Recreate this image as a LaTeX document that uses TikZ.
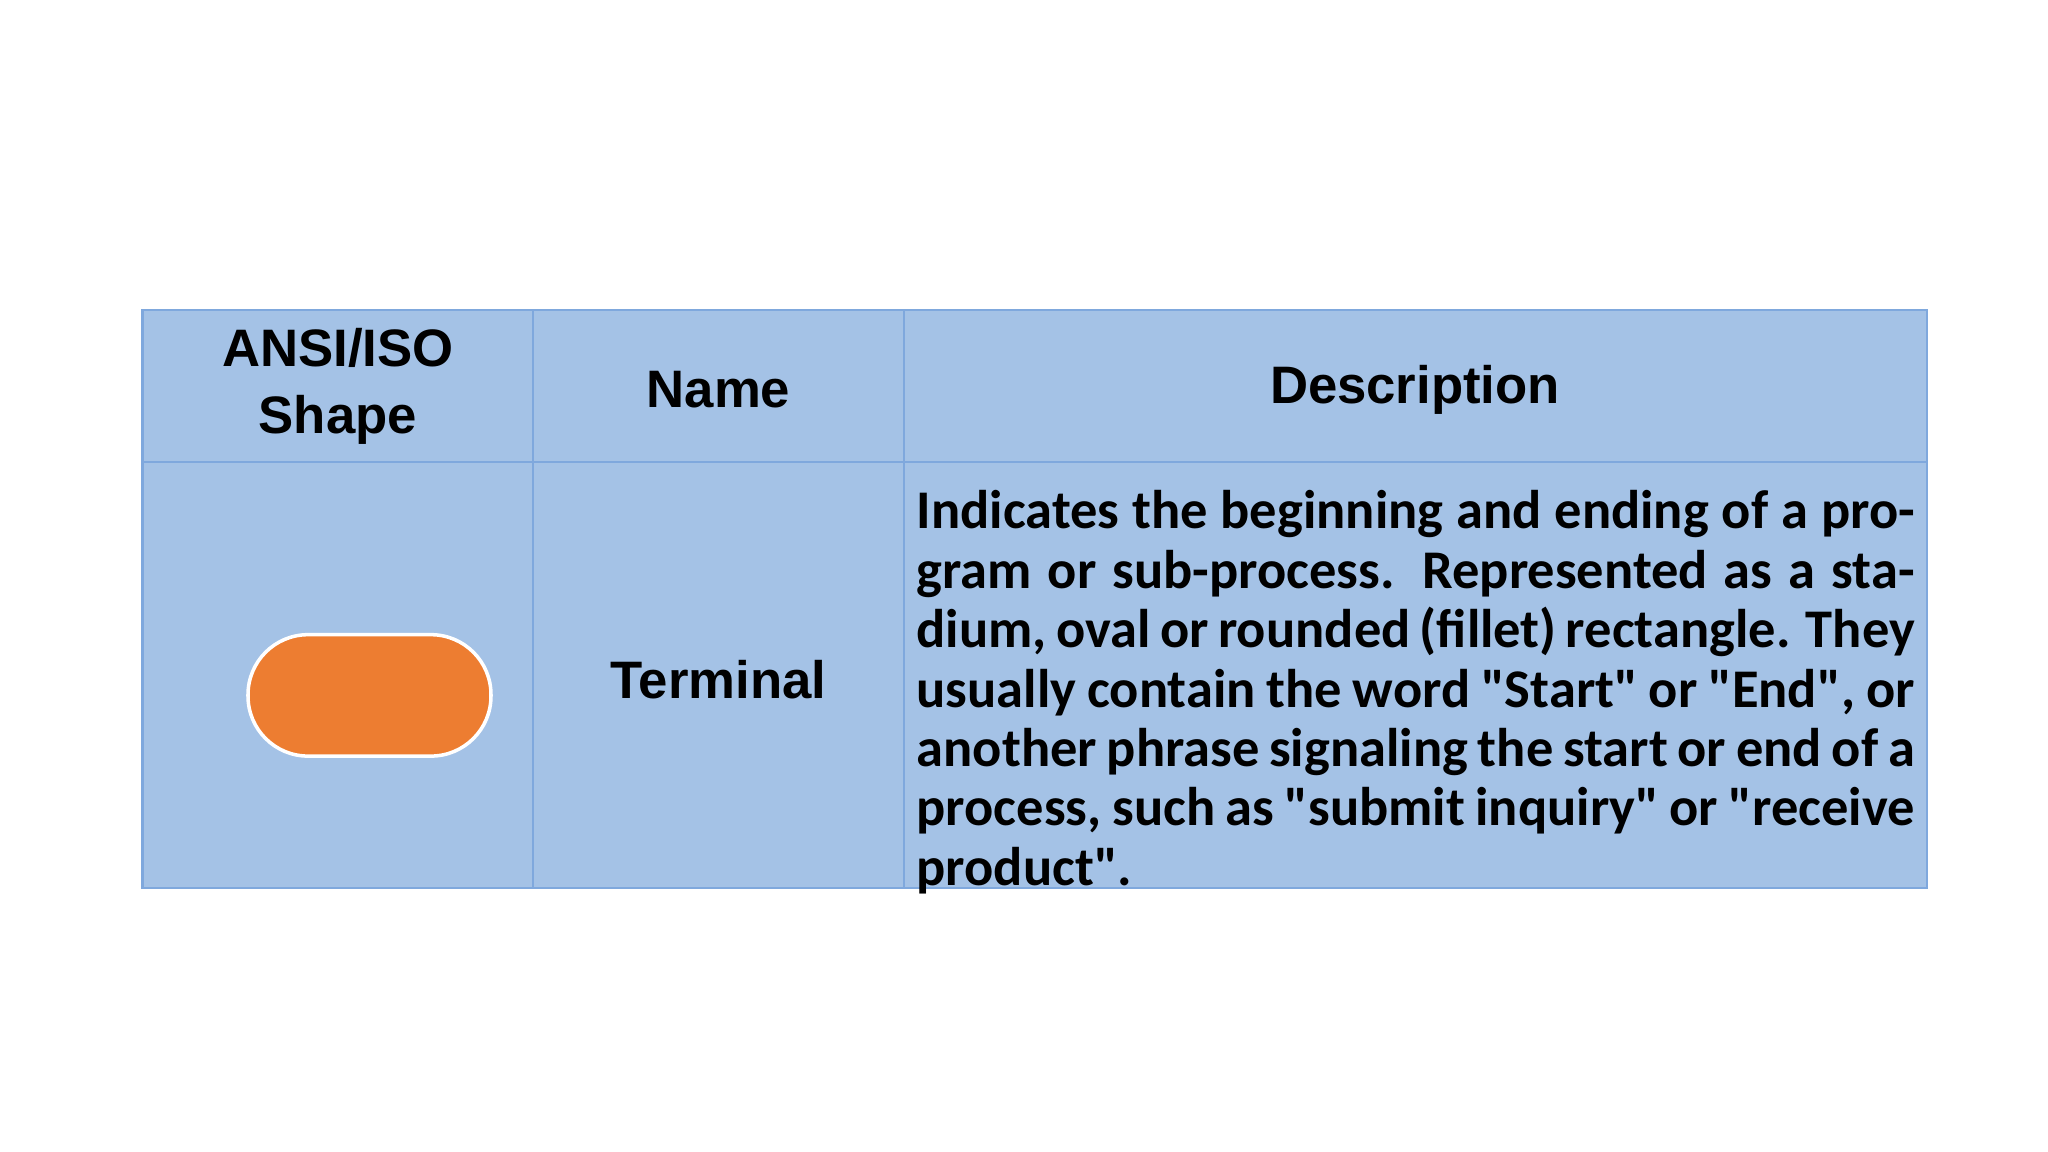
\documentclass[tikz,border=0pt]{standalone}
\usepackage{fontspec}
\setmainfont{Liberation Sans}
\newfontfamily\calib{Carlito}
\definecolor{cellblue}{HTML}{A4C2E6}
\definecolor{lineblue}{HTML}{7FA8DD}
\definecolor{termorange}{HTML}{ED7D31}
\begin{document}
\begin{tikzpicture}
\useasboundingbox (0,0) rectangle (20.48,11.52);
\tikzset{hdr/.style={font=\bfseries\fontsize{15}{19}\selectfont,align=center}}
\fill[cellblue] (1.425,2.639) rectangle (19.266,8.419);
\draw[lineblue,line width=0.6pt] (1.425,2.639) rectangle (19.266,8.419);
\draw[lineblue,line width=0.6pt] (1.425,6.901) -- (19.266,6.901);
\draw[lineblue,line width=0.6pt] (5.331,2.639) -- (5.331,8.419);
\draw[lineblue,line width=0.6pt] (9.039,2.639) -- (9.039,8.419);
\node[hdr] (h1) at (3.378,7.66) {ANSI/ISO\\Shape};
\node[hdr] (h2) at (7.185,7.62) {Name};
\node[hdr] (h3) at (14.15,7.62) {Description};
\node[draw=white,line width=1pt,fill=termorange,rounded corners=0.6cm,minimum width=2.43cm,minimum height=1.214cm] (term) at (3.695,4.566) {};
\node[hdr] (name) at (7.185,4.72) {Terminal};
\node[anchor=north west,inner sep=0pt,text width=9.98cm,align=justify,font=\calib\bfseries\fontsize{15.5}{16.9}\selectfont] (desc) at (9.16,6.62) {Indicates the beginning and ending of a program or sub-process. Represented as a stadium, oval or rounded (fillet) rectangle. They usually contain the word "Start" or "End", or another phrase signaling the start or end of a process, such as "submit inquiry" or "receive product".};
\end{tikzpicture}
\end{document}
